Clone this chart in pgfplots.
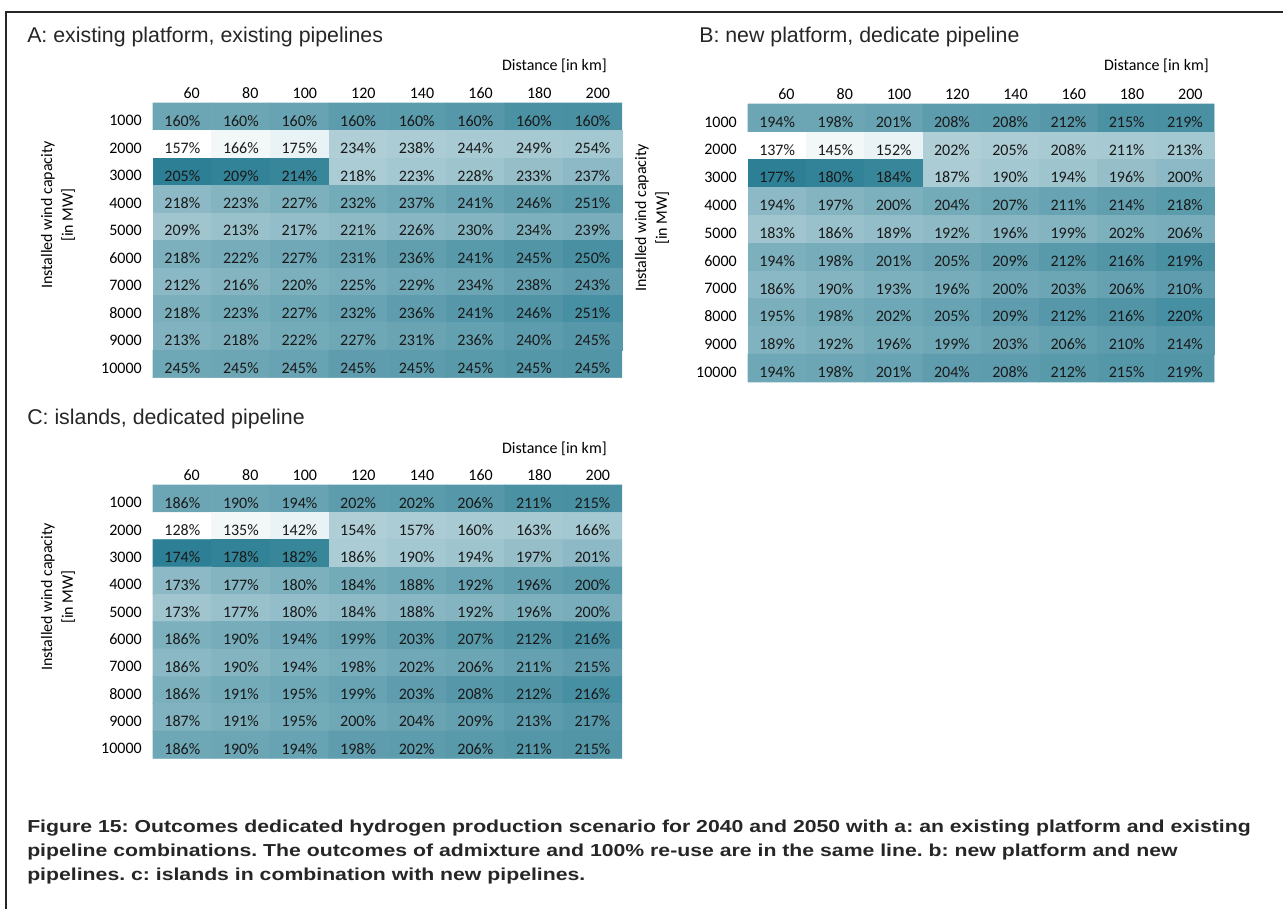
\documentclass[border=0pt]{standalone}
\usepackage{pgfplots}
\pgfplotsset{compat=1.18}
\usepackage{pgfplotstable}
\usepackage{fontspec}
\setmainfont{Liberation Sans}
\newfontfamily\capfont{Liberation Sans}[FakeStretch=1.225]
\newfontfamily\cellf{Carlito}
\newcommand\cellfont{\cellf\fontsize{12}{15.5}\selectfont}

% shade of each cell (0 = white, 1 = dark teal), same pattern in all panels
\pgfplotstableread[row sep=\\]{
x y s\\
0 0 .68\\ 1 0 .68\\ 2 0 .70\\ 3 0 .75\\ 4 0 .76\\ 5 0 .78\\ 6 0 .83\\ 7 0 .84\\
0 1 0\\ 1 1 .06\\ 2 1 .10\\ 3 1 .37\\ 4 1 .39\\ 5 1 .40\\ 6 1 .41\\ 7 1 .42\\
0 2 .97\\ 1 2 .94\\ 2 2 .92\\ 3 2 .39\\ 4 2 .42\\ 5 2 .45\\ 6 2 .49\\ 7 2 .53\\
0 3 .53\\ 1 3 .57\\ 2 3 .60\\ 3 3 .64\\ 4 3 .67\\ 5 3 .70\\ 6 3 .73\\ 7 3 .76\\
0 4 .44\\ 1 4 .47\\ 2 4 .50\\ 3 4 .52\\ 4 4 .55\\ 5 4 .57\\ 6 4 .60\\ 7 4 .62\\
0 5 .60\\ 1 5 .63\\ 2 5 .66\\ 3 5 .69\\ 4 5 .73\\ 5 5 .77\\ 6 5 .80\\ 7 5 .84\\
0 6 .54\\ 1 6 .57\\ 2 6 .60\\ 3 6 .63\\ 4 6 .66\\ 5 6 .68\\ 6 6 .71\\ 7 6 .74\\
0 7 .61\\ 1 7 .64\\ 2 7 .67\\ 3 7 .70\\ 4 7 .74\\ 5 7 .78\\ 6 7 .81\\ 7 7 .85\\
0 8 .58\\ 1 8 .61\\ 2 8 .64\\ 3 8 .67\\ 4 8 .69\\ 5 8 .72\\ 6 8 .75\\ 7 8 .78\\
0 9 .67\\ 1 9 .68\\ 2 9 .70\\ 3 9 .74\\ 4 9 .75\\ 5 9 .77\\ 6 9 .79\\ 7 9 .80\\
}\shadetab

\pgfplotstableread[row sep=\\]{
x y v\\
0 0 160\\ 1 0 160\\ 2 0 160\\ 3 0 160\\ 4 0 160\\ 5 0 160\\ 6 0 160\\ 7 0 160\\
0 1 157\\ 1 1 166\\ 2 1 175\\ 3 1 234\\ 4 1 238\\ 5 1 244\\ 6 1 249\\ 7 1 254\\
0 2 205\\ 1 2 209\\ 2 2 214\\ 3 2 218\\ 4 2 223\\ 5 2 228\\ 6 2 233\\ 7 2 237\\
0 3 218\\ 1 3 223\\ 2 3 227\\ 3 3 232\\ 4 3 237\\ 5 3 241\\ 6 3 246\\ 7 3 251\\
0 4 209\\ 1 4 213\\ 2 4 217\\ 3 4 221\\ 4 4 226\\ 5 4 230\\ 6 4 234\\ 7 4 239\\
0 5 218\\ 1 5 222\\ 2 5 227\\ 3 5 231\\ 4 5 236\\ 5 5 241\\ 6 5 245\\ 7 5 250\\
0 6 212\\ 1 6 216\\ 2 6 220\\ 3 6 225\\ 4 6 229\\ 5 6 234\\ 6 6 238\\ 7 6 243\\
0 7 218\\ 1 7 223\\ 2 7 227\\ 3 7 232\\ 4 7 236\\ 5 7 241\\ 6 7 246\\ 7 7 251\\
0 8 213\\ 1 8 218\\ 2 8 222\\ 3 8 227\\ 4 8 231\\ 5 8 236\\ 6 8 240\\ 7 8 245\\
0 9 245\\ 1 9 245\\ 2 9 245\\ 3 9 245\\ 4 9 245\\ 5 9 245\\ 6 9 245\\ 7 9 245\\
}\tabA

\pgfplotstableread[row sep=\\]{
x y v\\
0 0 194\\ 1 0 198\\ 2 0 201\\ 3 0 208\\ 4 0 208\\ 5 0 212\\ 6 0 215\\ 7 0 219\\
0 1 137\\ 1 1 145\\ 2 1 152\\ 3 1 202\\ 4 1 205\\ 5 1 208\\ 6 1 211\\ 7 1 213\\
0 2 177\\ 1 2 180\\ 2 2 184\\ 3 2 187\\ 4 2 190\\ 5 2 194\\ 6 2 196\\ 7 2 200\\
0 3 194\\ 1 3 197\\ 2 3 200\\ 3 3 204\\ 4 3 207\\ 5 3 211\\ 6 3 214\\ 7 3 218\\
0 4 183\\ 1 4 186\\ 2 4 189\\ 3 4 192\\ 4 4 196\\ 5 4 199\\ 6 4 202\\ 7 4 206\\
0 5 194\\ 1 5 198\\ 2 5 201\\ 3 5 205\\ 4 5 209\\ 5 5 212\\ 6 5 216\\ 7 5 219\\
0 6 186\\ 1 6 190\\ 2 6 193\\ 3 6 196\\ 4 6 200\\ 5 6 203\\ 6 6 206\\ 7 6 210\\
0 7 195\\ 1 7 198\\ 2 7 202\\ 3 7 205\\ 4 7 209\\ 5 7 212\\ 6 7 216\\ 7 7 220\\
0 8 189\\ 1 8 192\\ 2 8 196\\ 3 8 199\\ 4 8 203\\ 5 8 206\\ 6 8 210\\ 7 8 214\\
0 9 194\\ 1 9 198\\ 2 9 201\\ 3 9 204\\ 4 9 208\\ 5 9 212\\ 6 9 215\\ 7 9 219\\
}\tabB

\pgfplotstableread[row sep=\\]{
x y v\\
0 0 186\\ 1 0 190\\ 2 0 194\\ 3 0 202\\ 4 0 202\\ 5 0 206\\ 6 0 211\\ 7 0 215\\
0 1 128\\ 1 1 135\\ 2 1 142\\ 3 1 154\\ 4 1 157\\ 5 1 160\\ 6 1 163\\ 7 1 166\\
0 2 174\\ 1 2 178\\ 2 2 182\\ 3 2 186\\ 4 2 190\\ 5 2 194\\ 6 2 197\\ 7 2 201\\
0 3 173\\ 1 3 177\\ 2 3 180\\ 3 3 184\\ 4 3 188\\ 5 3 192\\ 6 3 196\\ 7 3 200\\
0 4 173\\ 1 4 177\\ 2 4 180\\ 3 4 184\\ 4 4 188\\ 5 4 192\\ 6 4 196\\ 7 4 200\\
0 5 186\\ 1 5 190\\ 2 5 194\\ 3 5 199\\ 4 5 203\\ 5 5 207\\ 6 5 212\\ 7 5 216\\
0 6 186\\ 1 6 190\\ 2 6 194\\ 3 6 198\\ 4 6 202\\ 5 6 206\\ 6 6 211\\ 7 6 215\\
0 7 186\\ 1 7 191\\ 2 7 195\\ 3 7 199\\ 4 7 203\\ 5 7 208\\ 6 7 212\\ 7 7 216\\
0 8 187\\ 1 8 191\\ 2 8 195\\ 3 8 200\\ 4 8 204\\ 5 8 209\\ 6 8 213\\ 7 8 217\\
0 9 186\\ 1 9 190\\ 2 9 194\\ 3 9 198\\ 4 9 202\\ 5 9 206\\ 6 9 211\\ 7 9 215\\
}\tabC

\pgfplotsset{
  hm/.style={
    anchor=north west,
    x=43.95pt, y=20.6pt,
    xmin=-0.5, xmax=7.5, ymin=-0.5, ymax=9.5, y dir=reverse,
    axis line style={draw=none}, major tick length=0pt,
    xtick={0,...,7}, xticklabels={60,80,100,120,140,160,180,200},
    xticklabel pos=upper,
    ytick={0,...,9},
    yticklabels={1000,2000,3000,4000,5000,6000,7000,8000,9000,10000},
    xticklabel style={font=\cellfont, inner sep=0pt, anchor=east, xshift=13.3pt, yshift=7.5pt},
    yticklabel style={font=\cellfont, inner sep=0pt, anchor=east, xshift=-8.25pt, yshift=-3pt},
    colormap={hm}{rgb255=(255,255,255) rgb255=(40,124,146)},
    point meta min=0, point meta max=1,
    clip=false,
  },
  cellval/.style={draw=none, mark=none,
    point meta=explicit symbolic,
    nodes near coords={\pgfplotspointmeta\%},
    every node near coord/.style={font=\cellfont, anchor=center, inner sep=0pt, yshift=-3pt, text=black!90}},
}

\begin{document}
\begin{tikzpicture}
\begin{scope}[x=0.75pt,y=-0.75pt]
\useasboundingbox (0,0) rectangle (1283,909);
\draw[line width=1.5pt, black!85] (6,909) -- (6,12) -- (1283,12);
\node[anchor=base west, inner sep=0pt, font=\fontsize{16}{19}\selectfont, text=black!85] at (27,43) {A: existing platform, existing pipelines};
\node[anchor=base west, inner sep=0pt, font=\fontsize{16}{19}\selectfont, text=black!85] at (699,43) {B: new platform, dedicate pipeline};
\node[anchor=base west, inner sep=0pt, font=\fontsize{16}{19}\selectfont, text=black!85] at (27,425) {C: islands, dedicated pipeline};
\node[anchor=east, font=\cellfont, inner sep=0pt] at (607,66) {Distance [in km]};
\node[anchor=east, font=\cellfont, inner sep=0pt] at (1209,66) {Distance [in km]};
\node[anchor=east, font=\cellfont, inner sep=0pt] at (607,449) {Distance [in km]};
\node[rotate=90, align=center, font=\cellfont, inner sep=0pt] at (58,215) {Installed wind capacity\\[0pt] [in MW]};
\node[rotate=90, align=center, font=\cellfont, inner sep=0pt] at (652,218) {Installed wind capacity\\[0pt] [in MW]};
\node[rotate=90, align=center, font=\cellfont, inner sep=0pt] at (58,597) {Installed wind capacity\\[0pt] [in MW]};
\node[anchor=base west, align=left, inner sep=0pt, text=black!85, font=\capfont\bfseries\fontsize{13}{18}\selectfont\frenchspacing] at (27,880)
 {Figure 15: Outcomes dedicated hydrogen production scenario for 2040 and 2050 with a: an existing platform and existing\\
  pipeline combinations. The outcomes of admixture and 100\% re-use are in the same line. b: new platform and new\\
  pipelines. c: islands in combination with new pipelines.};
\end{scope}

\begin{axis}[hm, at={(114.75pt,-77.25pt)}]
\addplot[matrix plot*, mesh/cols=8, point meta=\thisrow{s}] table[x=x,y=y] {\shadetab};
\addplot[cellval] table[x=x,y=y,meta=v] {\tabA};
\end{axis}

\begin{axis}[hm, x=43.7pt, y=20.85pt, at={(561pt,-78pt)}]
\addplot[matrix plot*, mesh/cols=8, point meta=\thisrow{s}] table[x=x,y=y] {\shadetab};
\addplot[cellval] table[x=x,y=y,meta=v] {\tabB};
\end{axis}

\begin{axis}[hm, y=20.5pt, at={(114.75pt,-363.75pt)}]
\addplot[matrix plot*, mesh/cols=8, point meta=\thisrow{s}] table[x=x,y=y] {\shadetab};
\addplot[cellval] table[x=x,y=y,meta=v] {\tabC};
\end{axis}
\end{tikzpicture}
\end{document}
